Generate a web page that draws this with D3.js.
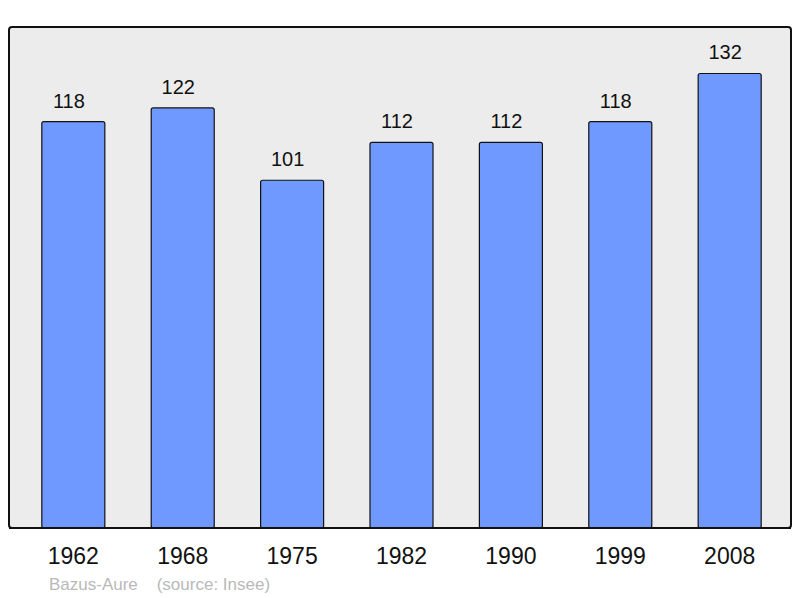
<!DOCTYPE html>
<html>
<head>
<meta charset="utf-8">
<script src="https://cdn.jsdelivr.net/npm/d3@7"></script>
<style>
  body { margin: 0; background: #fff; }
  text { font-family: "Liberation Sans", Arial, sans-serif; }
</style>
</head>
<body>
<div class="viz"></div>
<script>
// population by census year
const years = ['1962', '1968', '1975', '1982', '1990', '1999', '2008']
const population = [118, 122, 101, 112, 112, 118, 132]
const place = 'Bazus-Aure'
const source = '(source: Insee)'

const width = 800
const height = 598

const svg = d3.select('.viz')
  .append('svg')
    .attr('width', width)
    .attr('height', height)

const data = years.map((y, i) => ({ year: y, value: population[i] }))

const x = d3.scaleBand().domain(years).range([9, 794]).paddingInner(0.424).paddingOuter(0.3)
const y = d3.scaleLinear().domain([0, 145.5]).range([528, 27])

// frame
svg.append('rect')
  .attr('x', 9).attr('y', 27)
  .attr('width', 782).attr('height', 501)
  .attr('rx', 3)
  .attr('fill', '#ececec')
  .attr('stroke', '#111')
  .attr('stroke-width', 2)

// bars
svg.selectAll('rect.bar')
  .data(data).enter().append('rect')
  .attr('class', 'bar')
  .attr('x', d => x(d.year))
  .attr('y', d => y(d.value))
  .attr('width', x.bandwidth())
  .attr('height', d => y(0) - y(d.value))
  .attr('rx', 2)
  .attr('fill', '#7099ff')
  .attr('stroke', '#111')
  .attr('stroke-width', 1.2)

// redraw bottom edge of frame over bars
svg.append('line')
  .attr('x1', 9).attr('x2', 791)
  .attr('y1', 528).attr('y2', 528)
  .attr('stroke', '#111')
  .attr('stroke-width', 2)

// value labels (sit a little left of bar centre in the original)
svg.selectAll('text.value')
  .data(data).enter().append('text')
  .attr('class', 'value')
  .attr('x', d => x(d.year) + x.bandwidth() / 2 - 4.5)
  .attr('y', d => y(d.value) - 14)
  .attr('text-anchor', 'middle')
  .attr('font-size', 20)
  .attr('fill', '#111')
  .text(d => d.value)

// year labels
svg.append('g')
  .attr('transform', 'translate(0,528)')
  .call(d3.axisBottom(x).tickSize(0).tickPadding(20))
  .call(g => g.select('.domain').remove())
  .selectAll('text')
    .attr('font-size', 23)
    .attr('fill', '#111')
    .attr('font-family', '"Liberation Sans", Arial, sans-serif')

// caption
svg.append('text')
  .attr('x', 49).attr('y', 590)
  .attr('font-size', 17)
  .attr('fill', '#b9b9b9')
  .attr('xml:space', 'preserve')
  .text(place + '    ' + source)
</script>
</body>
</html>
